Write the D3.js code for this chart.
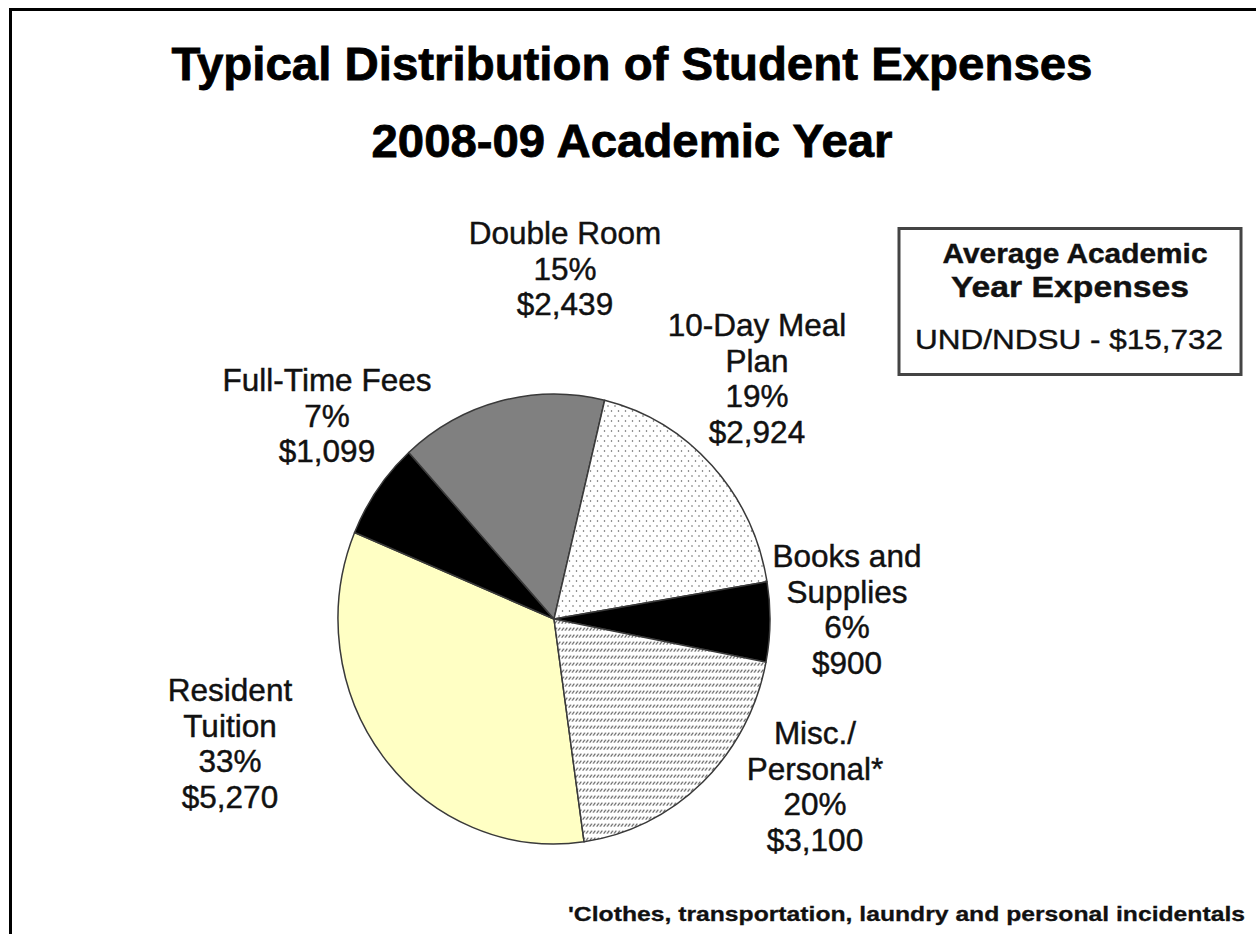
<!DOCTYPE html>
<html>
<head>
<meta charset="utf-8">
<script src="https://cdn.jsdelivr.net/npm/d3@7/dist/d3.min.js"></script>
<style>
  html, body { margin: 0; padding: 0; background: #fff; }
  svg { display: block; }
  text { font-family: "Liberation Sans", Arial, sans-serif; fill: #111; }
</style>
</head>
<body>
<svg id="chart" width="1256" height="934"></svg>
<script>
// Expense categories, listed clockwise around the pie
const categories = ["Resident Tuition", "Full-Time Fees", "Double Room", "10-Day Meal Plan", "Books and Supplies", "Misc./ Personal*"];
const labelLines = [["Resident", "Tuition"], ["Full-Time Fees"], ["Double Room"], ["10-Day Meal", "Plan"], ["Books and", "Supplies"], ["Misc./", "Personal*"]];
const amounts = [5270, 1099, 2439, 2924, 900, 3100];
const percentLabels = ["33%", "7%", "15%", "19%", "6%", "20%"];
const amountLabels = ["$5,270", "$1,099", "$2,439", "$2,924", "$900", "$3,100"];
const fills = ["#ffffc4", "#000000", "#808080", "url(#dots)", "#000000", "url(#hatch)"];

const titleLines = ["Typical Distribution of Student Expenses", "2008-09 Academic Year"];
const boxLines = ["Average Academic", "Year Expenses"];
const boxTotal = "UND/NDSU - $15,732";
const footnote = "'Clothes, transportation, laundry and personal incidentals";

// Label anchors (centre x, first baseline y)
const labelAnchors = [[230, 701], [327, 391], [565, 244], [757, 336], [847, 567], [815, 744]];
const lineGap = 35.5;

const svg = d3.select("#chart");
const defs = svg.append("defs");

// Pie geometry: slightly taller than wide
const cx = 554, cy = 619, rx = 216, ry = 225;
const yStretch = ry / rx;

// Fill patterns (compensate for the vertical stretch of the pie group)
const dots = defs.append("pattern").attr("id", "dots")
  .attr("patternUnits", "userSpaceOnUse").attr("width", 7).attr("height", 10)
  .attr("patternTransform", `scale(1, ${1 / yStretch})`);
dots.append("rect").attr("width", 7).attr("height", 10).attr("fill", "#fff");
dots.append("circle").attr("cx", 1.5).attr("cy", 2).attr("r", 0.75).attr("fill", "#555");
dots.append("circle").attr("cx", 5).attr("cy", 7).attr("r", 0.75).attr("fill", "#555");

const hatch = defs.append("pattern").attr("id", "hatch")
  .attr("patternUnits", "userSpaceOnUse").attr("width", 3.5).attr("height", 7)
  .attr("patternTransform", `scale(1, ${1 / yStretch})`);
hatch.append("rect").attr("width", 3.5).attr("height", 7).attr("fill", "#fff");
hatch.append("line").attr("x1", 0.6).attr("y1", 4.6).attr("x2", 2.9).attr("y2", 1.6)
  .attr("stroke", "#555").attr("stroke-width", 1);

// Outer frame
svg.append("rect").attr("x", 10.5).attr("y", 9.5).attr("width", 1400).attr("height", 1000)
  .attr("fill", "none").attr("stroke", "#000").attr("stroke-width", 3);

// Titles
const titleStyle = sel => sel.attr("text-anchor", "middle").attr("font-size", 47)
  .attr("font-weight", "bold").style("fill", "#000")
  .attr("stroke", "#000").attr("stroke-width", 0.8);
svg.append("text").attr("x", 632).attr("y", 80).call(titleStyle)
  .attr("textLength", 921).attr("lengthAdjust", "spacingAndGlyphs").text(titleLines[0]);
svg.append("text").attr("x", 632).attr("y", 157).call(titleStyle)
  .attr("textLength", 521).attr("lengthAdjust", "spacingAndGlyphs").text(titleLines[1]);

// Pie
const startDeg = 172;
const pie = d3.pie().sort(null)
  .startAngle(startDeg * Math.PI / 180)
  .endAngle(startDeg * Math.PI / 180 + 2 * Math.PI);
const arc = d3.arc().innerRadius(0).outerRadius(rx);
const arcs = pie(amounts);

const g = svg.append("g").attr("transform", `translate(${cx},${cy}) scale(1, ${yStretch})`);
g.selectAll("path").data(arcs).join("path")
  .attr("d", arc)
  .attr("fill", (d, i) => fills[i])
  .attr("stroke", "#3a3a3a")
  .attr("stroke-width", 1.5)
  .attr("stroke-linejoin", "round")
  .attr("vector-effect", "non-scaling-stroke");

// Slice labels
const labels = svg.append("g");
categories.forEach((c, i) => {
  const lines = labelLines[i].concat([percentLabels[i], amountLabels[i]]);
  const t = labels.append("text").attr("text-anchor", "middle").attr("font-size", 31.5)
    .attr("stroke", "#111").attr("stroke-width", 0.45);
  lines.forEach((ln, k) => {
    t.append("tspan").attr("x", labelAnchors[i][0]).attr("y", labelAnchors[i][1] + k * lineGap).text(ln);
  });
});

// Summary box
svg.append("rect").attr("x", 899).attr("y", 228.5).attr("width", 342).attr("height", 146)
  .attr("fill", "#fff").attr("stroke", "#444").attr("stroke-width", 3);
svg.append("text").attr("x", 1075).attr("y", 263).attr("text-anchor", "middle")
  .attr("font-size", 28).attr("font-weight", "bold")
  .attr("stroke", "#111").attr("stroke-width", 0.4)
  .attr("textLength", 265).attr("lengthAdjust", "spacingAndGlyphs").text(boxLines[0]);
svg.append("text").attr("x", 1070).attr("y", 297).attr("text-anchor", "middle")
  .attr("font-size", 29).attr("font-weight", "bold")
  .attr("stroke", "#111").attr("stroke-width", 0.4)
  .attr("textLength", 238).attr("lengthAdjust", "spacingAndGlyphs").text(boxLines[1]);
svg.append("text").attr("x", 1069).attr("y", 349).attr("text-anchor", "middle")
  .attr("font-size", 28).attr("stroke", "#111").attr("stroke-width", 0.4)
  .attr("textLength", 308).attr("lengthAdjust", "spacingAndGlyphs").text(boxTotal);

// Footnote
svg.append("text").attr("x", 568).attr("y", 921)
  .attr("font-size", 21).attr("font-weight", "bold")
  .attr("stroke", "#111").attr("stroke-width", 0.3)
  .attr("textLength", 677).attr("lengthAdjust", "spacingAndGlyphs")
  .text(footnote);
</script>
</body>
</html>
